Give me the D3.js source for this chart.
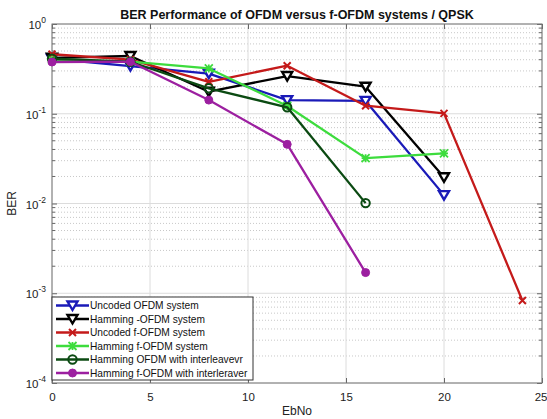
<!DOCTYPE html>
<html><head><meta charset="utf-8">
<script src="https://cdn.jsdelivr.net/npm/d3@7"></script>
<style>
body{margin:0;background:#fff;}
svg{display:block;font-family:"Liberation Sans",Arial,sans-serif;}
</style></head>
<body><svg id="c" width="547" height="419"></svg>
<script>
const title = "BER Performance of OFDM versus f-OFDM systems / QPSK";
const xLabel = "EbNo";
const yLabel = "BER";
const xTicks = [0, 5, 10, 15, 20, 25];
const yExponents = [0, -1, -2, -3, -4];

const snrA = [0, 4, 8, 12, 16, 20];
const snrB = [0, 4, 8, 12, 16, 20, 24];
const snrC = [0, 4, 8, 12, 16];

const uncodedOFDM = [0.41, 0.34, 0.28, 0.142, 0.139, 0.0124];
const hammingOFDM = [0.42, 0.44, 0.176, 0.263, 0.2, 0.0196];
const uncodedFOFDM = [0.46, 0.40, 0.227, 0.343, 0.123, 0.101, 0.00083];
const hammingFOFDM = [0.40, 0.38, 0.32, 0.122, 0.032, 0.0362];
const hammingOFDMInt = [0.41, 0.38, 0.192, 0.118, 0.0101];
const hammingFOFDMInt = [0.377, 0.38, 0.142, 0.0456, 0.0017];

const seriesNames = ["Uncoded OFDM system", "Hamming -OFDM system", "Uncoded f-OFDM system",
  "Hamming f-OFDM system", "Hamming OFDM with interleavevr", "Hamming f-OFDM with interleraver"];

const series = [
  {name: seriesNames[0], x: snrA, y: uncodedOFDM, color: "#1a1ab8", marker: "tri"},
  {name: seriesNames[1], x: snrA, y: hammingOFDM, color: "#000000", marker: "tri"},
  {name: seriesNames[2], x: snrB, y: uncodedFOFDM, color: "#c41a1a", marker: "x"},
  {name: seriesNames[3], x: snrA, y: hammingFOFDM, color: "#3ddc3d", marker: "star"},
  {name: seriesNames[4], x: snrC, y: hammingOFDMInt, color: "#0b4a12", marker: "circle"},
  {name: seriesNames[5], x: snrC, y: hammingFOFDMInt, color: "#9c1fa0", marker: "dot"}
];

const L = 52, R = 542, T = 24, B = 383;
const svg = d3.select("#c");
const x = d3.scaleLinear().domain([0, 25]).range([L, R]);
const y = d3.scaleLog().domain([1e-4, 1]).range([B, T]);

// minor grid (dotted)
const minors = [];
for (let e = -4; e < 0; e++) for (let m = 2; m <= 9; m++) minors.push(m * Math.pow(10, e));
const g = svg.append("g");
g.selectAll(".mg").data(minors).enter().append("line")
  .attr("x1", L).attr("x2", R).attr("y1", d => y(d)).attr("y2", d => y(d))
  .attr("stroke", "#c8c8c8").attr("stroke-width", 1).attr("stroke-dasharray", "1,2");
// major grid
g.selectAll(".Mg").data(yExponents).enter().append("line")
  .attr("x1", L).attr("x2", R).attr("y1", d => y(Math.pow(10, d))).attr("y2", d => y(Math.pow(10, d)))
  .attr("stroke", "#dcdcdc").attr("stroke-width", 1);
g.selectAll(".Vg").data(xTicks).enter().append("line")
  .attr("x1", d => x(d)).attr("x2", d => x(d)).attr("y1", T).attr("y2", B)
  .attr("stroke", "#dcdcdc").attr("stroke-width", 1);

// axes with D3
const xAxisB = d3.axisBottom(x).tickValues(xTicks).tickSize(-5).tickFormat(d3.format("d")).tickPadding(10);
const xAxisT = d3.axisTop(x).tickValues(xTicks).tickSize(-5).tickFormat("");
const yAxisL = d3.axisLeft(y).tickValues(yExponents.map(e => Math.pow(10, e))).tickSize(-5).tickFormat("");
const yAxisR = d3.axisRight(y).tickValues(yExponents.map(e => Math.pow(10, e))).tickSize(-5).tickFormat("");
const ax = svg.append("g");
const gb = ax.append("g").attr("transform", `translate(0,${B})`).call(xAxisB);
gb.selectAll("text").attr("font-size", 11.5).attr("fill", "#222").attr("font-family", "Liberation Sans, Arial, sans-serif");
gb.selectAll(".tick").filter(d => d === 25).select("text").attr("text-anchor", "end").attr("x", 5);
ax.append("g").attr("transform", `translate(0,${T})`).call(xAxisT);
ax.append("g").attr("transform", `translate(${L},0)`).call(yAxisL);
ax.append("g").attr("transform", `translate(${R},0)`).call(yAxisR);
ax.selectAll(".domain").attr("stroke", "none");
ax.selectAll(".tick line").attr("stroke", "#666");
// minor y ticks
[L, R].forEach(px => {
  ax.selectAll(null).data(minors).enter().append("line")
    .attr("x1", px).attr("x2", px === L ? px + 3 : px - 3)
    .attr("y1", d => y(d)).attr("y2", d => y(d)).attr("stroke", "#666");
});
// box
svg.append("rect").attr("x", L).attr("y", T).attr("width", R - L).attr("height", B - T)
  .attr("fill", "none").attr("stroke", "#777").attr("stroke-width", 1);

// y tick labels with superscripts
const yl = svg.append("g");
yExponents.forEach(e => {
  const t = yl.append("text").attr("x", 46).attr("y", y(Math.pow(10, e)) + 5)
    .attr("text-anchor", "end").attr("font-size", 11.5).attr("fill", "#222");
  t.append("tspan").text("10");
  t.append("tspan").attr("dy", -6).attr("font-size", 8.5).text(String(e));
});

// title and labels
svg.append("text").attr("x", (L + R) / 2).attr("y", 19).attr("text-anchor", "middle")
  .attr("font-size", 12.5).attr("font-weight", "bold").attr("fill", "#111").text(title);
svg.append("text").attr("x", (L + R) / 2).attr("y", 415).attr("text-anchor", "middle")
  .attr("font-size", 12).attr("fill", "#222").text(xLabel);
svg.append("text").attr("transform", `translate(16,${(T + B) / 2}) rotate(-90)`).attr("text-anchor", "middle")
  .attr("font-size", 12).attr("fill", "#222").text(yLabel);

function drawMarker(sel, type, color, cx, cy) {
  if (type === "tri") {
    const s = 5;
    sel.append("path").attr("d", `M${cx - s},${cy - s * 0.8}L${cx + s},${cy - s * 0.8}L${cx},${cy + s * 0.9}Z`)
      .attr("fill", "#fff").attr("stroke", color).attr("stroke-width", 2.4);
  } else if (type === "x") {
    const s = 3.5;
    sel.append("path").attr("d", `M${cx - s},${cy - s}L${cx + s},${cy + s}M${cx - s},${cy + s}L${cx + s},${cy - s}`)
      .attr("stroke", color).attr("stroke-width", 2);
  } else if (type === "star") {
    const s = 4;
    sel.append("path").attr("d", `M${cx - s},${cy - s}L${cx + s},${cy + s}M${cx - s},${cy + s}L${cx + s},${cy - s}M${cx},${cy - s}L${cx},${cy + s}M${cx - s},${cy}L${cx + s},${cy}`)
      .attr("stroke", color).attr("stroke-width", 1.8);
  } else if (type === "circle") {
    sel.append("circle").attr("cx", cx).attr("cy", cy).attr("r", 4.2)
      .attr("fill", "none").attr("stroke", color).attr("stroke-width", 2);
  } else if (type === "dot") {
    sel.append("circle").attr("cx", cx).attr("cy", cy).attr("r", 4)
      .attr("fill", color).attr("stroke", color).attr("stroke-width", 1);
  }
}

const line = d3.line().x(d => x(d[0])).y(d => y(d[1]));
const plot = svg.append("g");
series.forEach(s => {
  const pts = s.x.map((v, i) => [v, s.y[i]]);
  const gs = plot.append("g");
  gs.append("path").attr("d", line(pts)).attr("fill", "none").attr("stroke", s.color)
    .attr("stroke-width", 2.3).attr("stroke-linejoin", "round");
  pts.forEach(p => drawMarker(gs, s.marker, s.color, x(p[0]), y(p[1])));
});

// legend
const lg = svg.append("g");
lg.append("rect").attr("x", 52).attr("y", 297).attr("width", 201).attr("height", 83)
  .attr("fill", "#fff").attr("stroke", "#333").attr("stroke-width", 1);
series.forEach((s, i) => {
  const cy = 305.5 + i * 13.5;
  lg.append("line").attr("x1", 56).attr("x2", 89).attr("y1", cy).attr("y2", cy)
    .attr("stroke", s.color).attr("stroke-width", 2.5);
  drawMarker(lg, s.marker, s.color, 72.5, cy);
  lg.append("text").attr("x", 90).attr("y", cy + 3.8).attr("font-size", 10.2)
    .attr("fill", "#111").text(s.name);
});
</script></body></html>
